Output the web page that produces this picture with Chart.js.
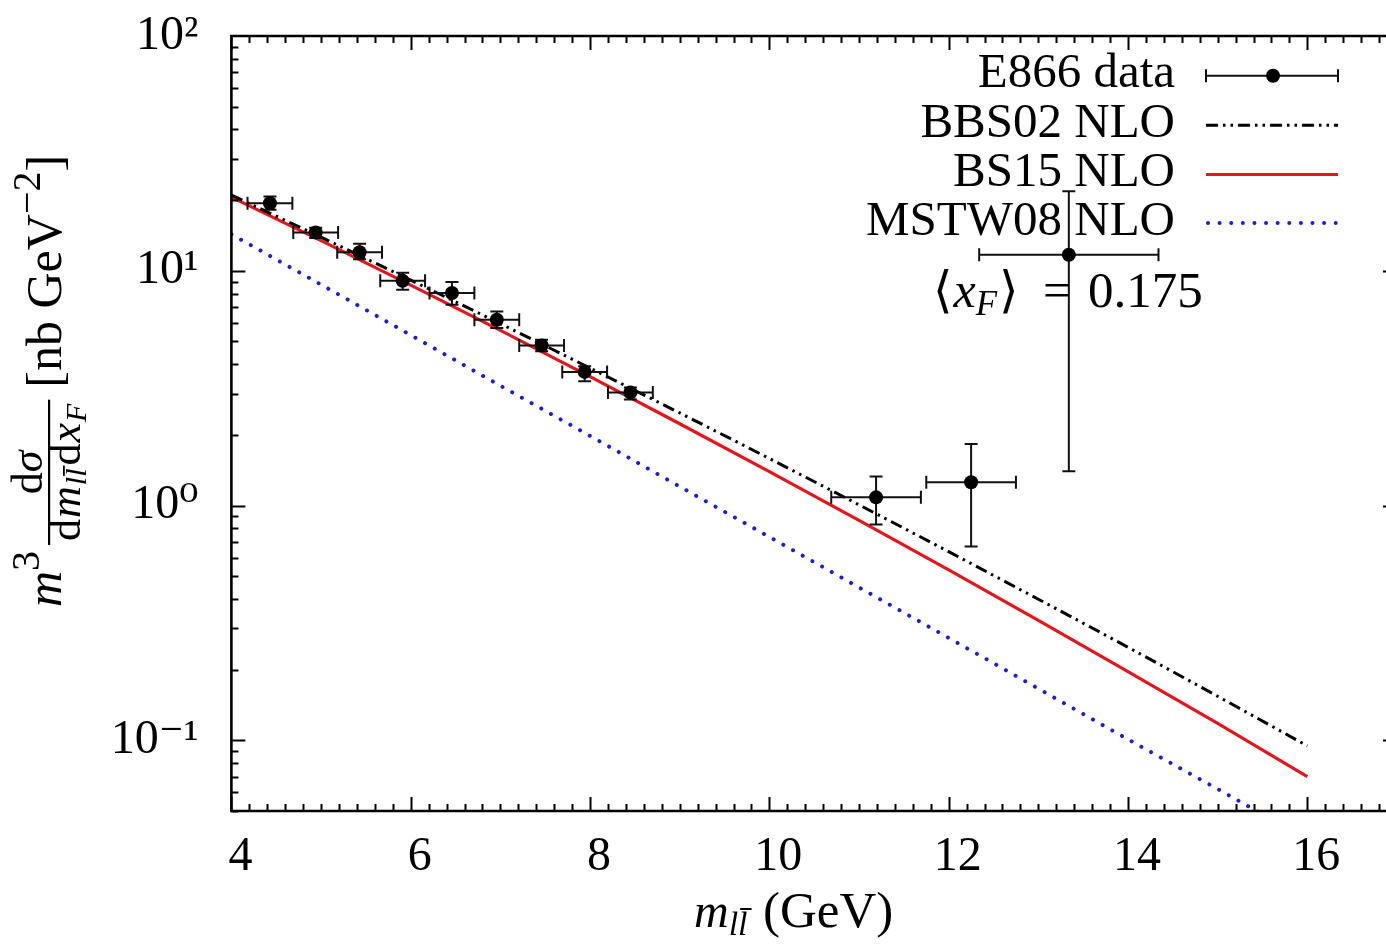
<!DOCTYPE html>
<html><head><meta charset="utf-8">
<script src="https://cdn.jsdelivr.net/npm/chart.js@4.4.1/dist/chart.umd.min.js"></script>
<style>html,body{margin:0;padding:0;background:#fff;overflow:hidden}#wrap{width:1386px;height:947px;overflow:hidden}canvas{display:block}</style>
</head><body><div id="wrap"><canvas id="c" width="1404" height="947"></canvas></div>
<script>
// ---- data ----
const curveMass = [4,5,6,7,8,9,10,11,12,13,14,15,16];
const bbs02NLO  = [21.0,13.9,9.12,5.95,3.85,2.48,1.586,1.007,0.636,0.399,0.249,0.154,0.0947];
const bs15NLO   = [20.6,13.44,8.69,5.57,3.54,2.23,1.395,0.865,0.532,0.324,0.196,0.118,0.070];
const mstw08NLO = [14.3,8.73,5.32,3.24,1.98,1.205,0.735,0.448,0.273,0.166,0.101,0.062,0.0377];

const e866Mass    = [4.43,4.94,5.43,5.91,6.46,6.96,7.46,7.94,8.45,11.19,12.25,13.34];
const e866MassErr = [0.25,0.25,0.25,0.25,0.25,0.25,0.25,0.25,0.25,0.5,0.5,1.0];
const e866Value   = [19.4,14.55,12.0,9.06,8.04,6.19,4.81,3.71,3.03,1.084,1.256,11.7];
const e866Low     = [18.2,13.8,11.2,8.3,7.17,5.71,4.54,3.38,2.83,0.83,0.67,1.40];
const e866High    = [20.7,15.24,13.03,9.8,8.96,6.71,5.09,3.92,3.18,1.33,1.83,21.8];

const xTickValues = [4,6,8,10,12,14,16];
const yTickValues = [0.1,1,10,100];
const yTickLabels = ['10\u207B\u00B9','10\u2070','10\u00B9','10\u00B2'];
const legendLabels = ['E866 data','BBS02 NLO','BS15 NLO','MSTW08 NLO'];
const xfValue = '0.175';

const SERIF = '"Liberation Serif","DejaVu Serif","DejaVu Sans",serif';
const RED = '#e3161e', BLUE = '#1c1cd2';
const AREA = {left:231.4, top:36, right:1397, bottom:811};

function fR(s){return s+'px '+SERIF;}
function fI(s){return 'italic '+s+'px '+SERIF;}

const decorPlugin = {
  id:'decor',
  beforeDatasetDraw(chart,args){
    if(args.index!==3) return;
    const {ctx, scales:{x,y}} = chart;
    ctx.save();
    ctx.strokeStyle='#111'; ctx.lineWidth=2;
    const c=6.5;
    e866Mass.forEach((m,i)=>{
      const px=x.getPixelForValue(m), py=y.getPixelForValue(e866Value[i]);
      const xl=x.getPixelForValue(m-e866MassErr[i]), xr=x.getPixelForValue(m+e866MassErr[i]);
      const yt=y.getPixelForValue(e866High[i]), yb=y.getPixelForValue(e866Low[i]);
      ctx.beginPath();
      ctx.moveTo(xl,py); ctx.lineTo(xr,py);
      ctx.moveTo(xl,py-c); ctx.lineTo(xl,py+c);
      ctx.moveTo(xr,py-c); ctx.lineTo(xr,py+c);
      ctx.moveTo(px,yt); ctx.lineTo(px,yb);
      ctx.moveTo(px-c,yt); ctx.lineTo(px+c,yt);
      ctx.moveTo(px-c,yb); ctx.lineTo(px+c,yb);
      ctx.stroke();
    });
    ctx.restore();
  },
  afterDatasetsDraw(chart){
    const {ctx, chartArea:a, scales:{x,y}} = chart;
    ctx.save();
    ctx.strokeStyle='#000'; ctx.lineWidth=2.6;
    ctx.beginPath();
    ctx.moveTo(a.right,a.top); ctx.lineTo(a.left,a.top); ctx.lineTo(a.left,a.bottom); ctx.lineTo(a.right,a.bottom); ctx.lineTo(a.right,a.top);
    ctx.stroke();
    ctx.lineWidth=2;
    ctx.beginPath();
    for(let i=0;;i++){
      const v=4+i*0.2; if(v>x.max+1e-9) break;
      const px=Math.round(x.getPixelForValue(v))+0.5;
      const L=(i%10===0)?14:7;
      ctx.moveTo(px,a.bottom); ctx.lineTo(px,a.bottom-L);
      ctx.moveTo(px,a.top); ctx.lineTo(px,a.top+L);
    }
    [0.01,0.1,1,10].forEach(d=>{
      for(let k=1;k<=9;k++){
        const v=k*d; if(v<y.min*0.999||v>y.max*1.001) continue;
        const py=Math.round(y.getPixelForValue(v))+0.5;
        const L=(k===1)?14:7;
        ctx.moveTo(a.left,py); ctx.lineTo(a.left+L,py);
        ctx.moveTo(a.right,py); ctx.lineTo(a.right-L,py);
      }
    });
    ctx.stroke();
    ctx.restore();
  },
  afterDraw(chart){
    const ctx=chart.ctx;
    ctx.save();
    ctx.fillStyle='#000'; ctx.textBaseline='alphabetic';
    const baselines=[86.7,136.7,186,235];
    const sx0=1206, sx1=1338, tr=1175;
    ctx.font=fR(49); ctx.textAlign='right';
    legendLabels.forEach((t,i)=>ctx.fillText(t,tr,baselines[i]));
    ctx.textAlign='left';
    let cy=baselines[0]-11;
    ctx.strokeStyle='#111'; ctx.lineWidth=2;
    ctx.beginPath(); ctx.moveTo(sx0,cy); ctx.lineTo(sx1,cy);
    ctx.moveTo(sx0,cy-6.5); ctx.lineTo(sx0,cy+6.5); ctx.moveTo(sx1,cy-6.5); ctx.lineTo(sx1,cy+6.5); ctx.stroke();
    ctx.beginPath(); ctx.arc((sx0+sx1)/2+1,cy,7,0,Math.PI*2); ctx.fill();
    cy=baselines[1]-11.5;
    ctx.strokeStyle='#000'; ctx.lineWidth=3; ctx.setLineDash([12,5,2.5,5,2.5,5]);
    ctx.beginPath(); ctx.moveTo(sx0,cy); ctx.lineTo(sx1,cy); ctx.stroke();
    cy=baselines[2]-11.5;
    ctx.strokeStyle=RED; ctx.lineWidth=3.2; ctx.setLineDash([]);
    ctx.beginPath(); ctx.moveTo(sx0,cy); ctx.lineTo(sx1,cy); ctx.stroke();
    cy=baselines[3]-12;
    ctx.strokeStyle=BLUE; ctx.lineWidth=4; ctx.lineCap='round'; ctx.setLineDash([0.01,11.6]);
    ctx.beginPath(); ctx.moveTo(sx0+2,cy); ctx.lineTo(sx1-2,cy); ctx.stroke();
    ctx.setLineDash([]); ctx.lineCap='butt';

    const w=(t,f)=>{ctx.font=f;return ctx.measureText(t).width;};
    // <x_F> = 0.175
    let xx=933, by=306.7;
    ctx.font=fR(50); ctx.fillText('\u27E8',xx,by); xx+=w('\u27E8',fR(50))+1;
    ctx.font=fI(50); ctx.fillText('x',xx,by); xx+=w('x',fI(50));
    ctx.font=fI(35); ctx.fillText('F',xx,by+8); xx+=w('F',fI(35))+2;
    ctx.font=fR(50); ctx.fillText('\u27E9',xx,by);
    ctx.fillText('=',1043,by);
    ctx.font=fR(51); ctx.fillText(xfValue,1088,by);

    // x axis title
    let tx=694, ty=927;
    ctx.font=fI(48); ctx.fillText('m',tx,ty); tx+=w('m',fI(48));
    ctx.font=fI(34); ctx.fillText('l',tx,ty+8); tx+=w('l',fI(34));
    const lw=w('l',fI(34));
    ctx.fillText('l',tx,ty+8);
    ctx.fillRect(tx+2,ty+8-27,lw+2,2);
    ctx.font=fR(51); ctx.fillText('(GeV)',763,ty);

    // y axis title (rotated)
    const F=50,S=44,SS=30;
    ctx.save();
    ctx.translate(61,0); ctx.rotate(-Math.PI/2);
    const partsW=p=>p.reduce((s,q)=>s+w(q[0],q[1])+(q[3]||0),0);
    const numParts=[['d',fR(S),0],['\u03C3',fI(S),0]];
    const denParts=[['d',fR(S),0,1],['m',fI(S),0,1],['l',fI(SS),6,0],['l',fI(SS),6,3],['d',fR(S),0,1],['x',fI(S),0,1],['F',fI(SS),6,0]];
    const tailParts=[['[nb GeV',fR(F),0,0],['\u22122',fR(40),-21,0],[']',fR(F),0,0]];
    const wm=w('m',fI(F)), w3=w('3',fR(40));
    const numW=partsW(numParts), denW=partsW(denParts);
    const fracW=Math.max(numW,denW)+8;
    const tailW=partsW(tailParts);
    const total=wm+w3+6+fracW+12+tailW;
    let u=-(381+total/2);
    ctx.font=fI(F); ctx.fillText('m',u,0); u+=wm;
    ctx.font=fR(40); ctx.fillText('3',u,-22); u+=w3+6;
    const fu=u;
    ctx.fillRect(fu,-13,fracW,2.2);
    let nu=fu+(fracW-numW)/2;
    numParts.forEach(q=>{ctx.font=q[1]; ctx.fillText(q[0],nu,-19); nu+=w(q[0],q[1]);});
    let du=fu+(fracW-denW)/2;
    denParts.forEach((q,i)=>{
      ctx.font=q[1]; ctx.fillText(q[0],du,19+q[2]);
      if(i===3){ ctx.fillRect(du+1,19+q[2]-23,w('l',q[1])+2,1.8); }
      du+=w(q[0],q[1])+(q[3]||0);
    });
    u=fu+fracW+12;
    tailParts.forEach(q=>{ctx.font=q[1]; ctx.fillText(q[0],u,q[2]); u+=w(q[0],q[1]);});
    ctx.restore();
    ctx.restore();
  }
};

const pts=(xs,ys)=>xs.map((x,i)=>({x:x,y:ys[i]}));

const chart = new Chart(document.getElementById('c'),{
  type:'line',
  data:{datasets:[
    {label:legendLabels[1],data:pts(curveMass,bbs02NLO),borderColor:'#000',borderWidth:3,borderDash:[12,5,2.5,5,2.5,5],pointRadius:0,cubicInterpolationMode:'monotone',fill:false,order:3},
    {label:legendLabels[2],data:pts(curveMass,bs15NLO),borderColor:RED,borderWidth:3.2,pointRadius:0,cubicInterpolationMode:'monotone',fill:false,order:3},
    {label:legendLabels[3],data:pts(curveMass,mstw08NLO),borderColor:BLUE,borderWidth:4,borderDash:[0.01,11.1],borderCapStyle:'round',pointRadius:0,cubicInterpolationMode:'monotone',fill:false,order:3},
    {label:legendLabels[0],data:pts(e866Mass,e866Value),showLine:false,pointRadius:7,pointBackgroundColor:'#000',pointBorderWidth:0,order:1}
  ]},
  options:{
    responsive:false, animation:false, events:[],
    layout:{padding:{left:0,top:36,right:7,bottom:0}},
    plugins:{legend:{display:false},tooltip:{enabled:false}},
    scales:{
      x:{type:'linear',min:4,max:17,bounds:'data',
        grid:{display:false,drawTicks:false},border:{display:false},
        afterBuildTicks:s=>{s.ticks=xTickValues.map(v=>({value:v}));},
        afterFit:s=>{s.height=136; s.paddingLeft=0; s.paddingRight=0;},
        ticks:{font:{family:SERIF,size:48},color:'#000',padding:18,labelOffset:9,maxRotation:0,autoSkip:false,callback:v=>String(v)}},
      y:{type:'logarithmic',min:0.05,max:100,
        grid:{display:false,drawTicks:false},border:{display:false},
        afterBuildTicks:s=>{s.ticks=yTickValues.map(v=>({value:v}));},
        afterFit:s=>{s.width=231.4; s.paddingTop=0; s.paddingBottom=0;},
        ticks:{font:{family:SERIF,size:48},color:'#000',padding:33,autoSkip:false,
          callback:v=>{const i=yTickValues.findIndex(t=>Math.abs(t-v)<1e-9*Math.max(1,t));return i>=0?yTickLabels[i]:'';}}}
    }
  },
  plugins:[decorPlugin]
});
// make the plotting frame land where the reference has it
(function(){
  const ca = chart.chartArea;
  const p = chart.config.options.layout.padding;
  const np = {left:p.left, bottom:p.bottom, right:p.right + (ca.right - AREA.right), top:p.top + (AREA.top - ca.top)};
  if (Math.abs(ca.right-AREA.right)>0.5 || Math.abs(ca.top-AREA.top)>0.5){
    chart.config.options.layout.padding = np;
    chart.update();
  }
})();
</script></body></html>
